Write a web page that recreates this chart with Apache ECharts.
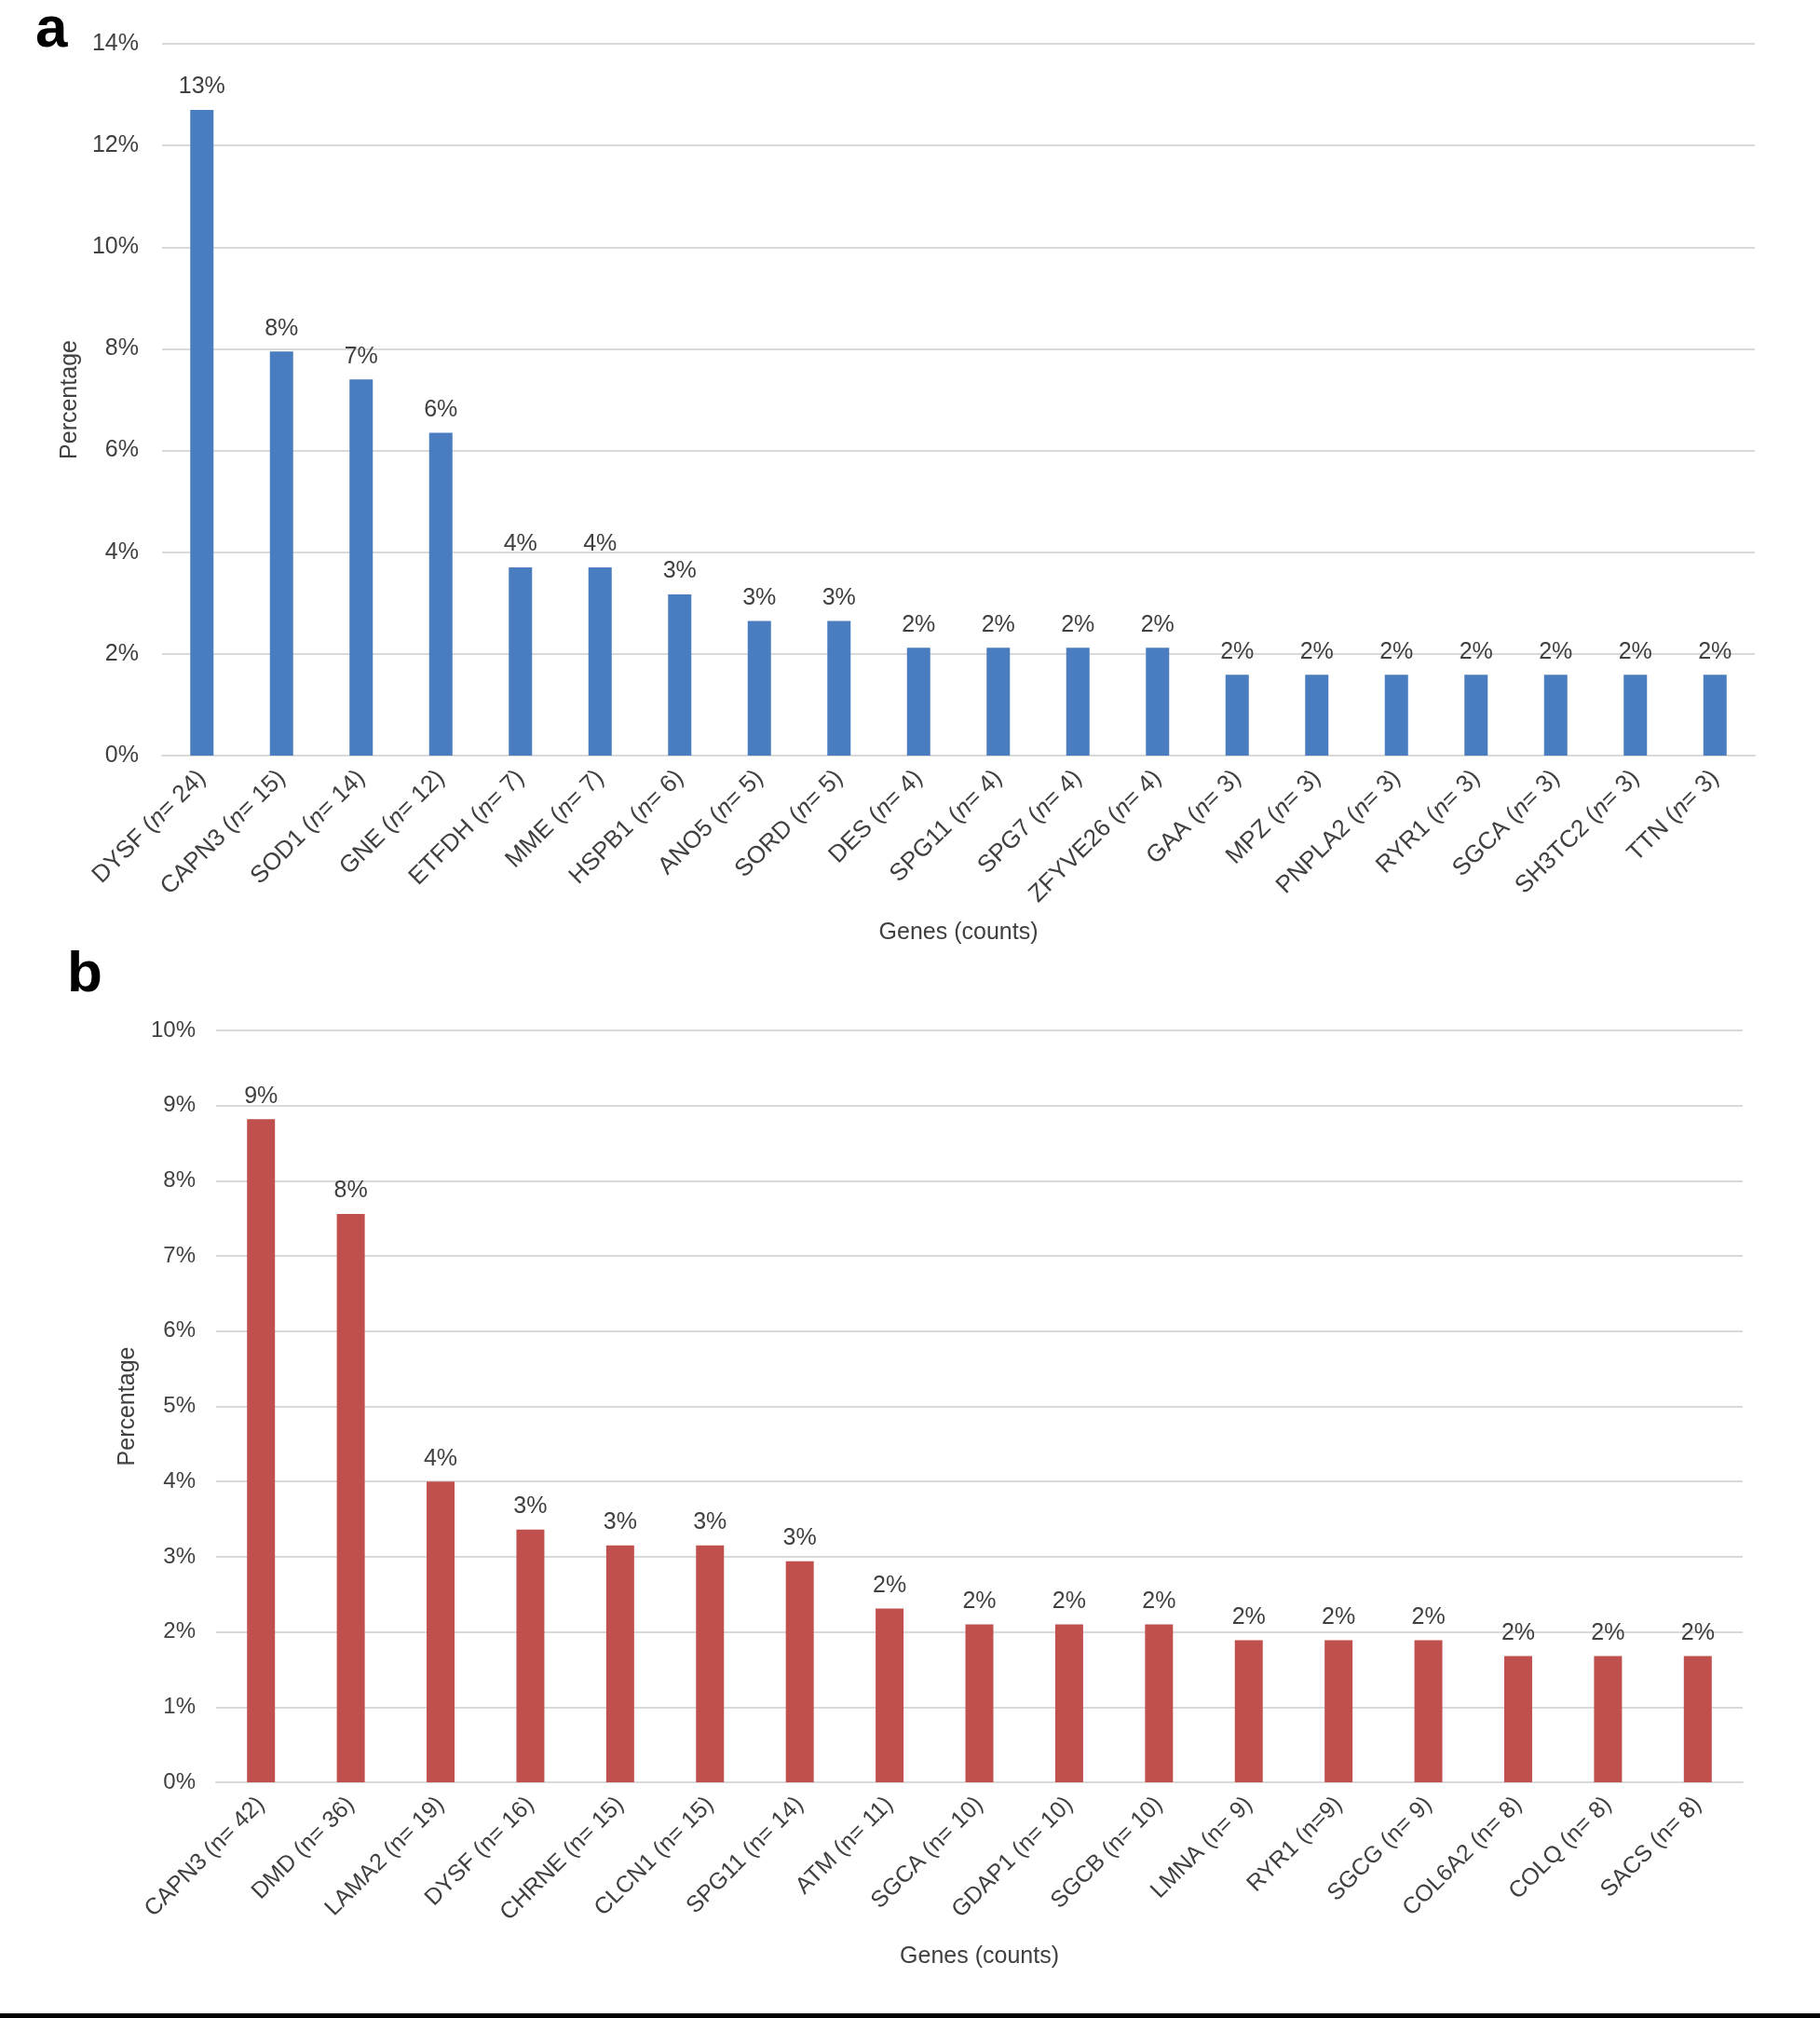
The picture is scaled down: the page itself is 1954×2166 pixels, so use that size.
<!DOCTYPE html>
<html>
<head>
<meta charset="utf-8">
<script src="https://cdn.jsdelivr.net/npm/echarts@6/dist/echarts.min.js"></script>
<style>
html,body{margin:0;padding:0;background:#fff;}
#chart{width:1954px;height:2166px;}
</style>
</head>
<body>
<div id="chart"></div>
<script>
// Panel a
var genesA = ['DYSF','CAPN3','SOD1','GNE','ETFDH','MME','HSPB1','ANO5','SORD','DES','SPG11','SPG7','ZFYVE26','GAA','MPZ','PNPLA2','RYR1','SGCA','SH3TC2','TTN'];
var countsA = [24,15,14,12,7,7,6,5,5,4,4,4,4,3,3,3,3,3,3,3];
var pctA = [12.7,7.95,7.4,6.35,3.7,3.7,3.17,2.65,2.65,2.12,2.12,2.12,2.12,1.59,1.59,1.59,1.59,1.59,1.59,1.59];
var ticksA = {min:0, max:14, interval:2};

// Panel b
var genesB = ['CAPN3','DMD','LAMA2','DYSF','CHRNE','CLCN1','SPG11','ATM','SGCA','GDAP1','SGCB','LMNA','RYR1','SGCG','COL6A2','COLQ','SACS'];
var countsB = [42,36,19,16,15,15,14,11,10,10,10,9,9,9,8,8,8];
var countSepB = ['= ','= ','= ','= ','= ','= ','= ','= ','= ','= ','= ','= ','=','= ','= ','= ','= '];
var pctB = [8.82,7.56,4.0,3.36,3.15,3.15,2.94,2.31,2.1,2.1,2.1,1.89,1.89,1.89,1.68,1.68,1.68];
var ticksB = {min:0, max:10, interval:1};

var FONT = "'Liberation Sans', Arial, sans-serif";
var TXT = '#404040';
var GRID = '#d9d9d9';

var catsA = genesA.map(function(g,i){ return g + '|' + countsA[i]; });
var catsB = genesB.map(function(g,i){ return g + '|' + countsB[i] + '|' + countSepB[i]; });

var chart = echarts.init(document.getElementById('chart'), null, {renderer:'canvas'});
var option = {
  backgroundColor:'#fff',
  animation:false,
  textStyle:{fontFamily:FONT},
  grid:[
    {left:174, right:70, top:47, height:764, containLabel:false},
    {left:232, right:83, top:1106, height:807, containLabel:false}
  ],
  graphic:[
    {type:'text', left:38, top:2, style:{text:'a', font:'bold 62px ' + FONT, fill:'#000'}},
    {type:'text', left:72, top:1016, style:{text:'b', font:'bold 62px ' + FONT, fill:'#000'}},
    {type:'rect', left:0, top:2161, shape:{width:1954, height:5}, style:{fill:'#000'}}
  ],
  xAxis:[
    {
      type:'category', gridIndex:0, data:catsA,
      name:'Genes (counts)', nameLocation:'middle', nameGap:178,
      nameTextStyle:{fontSize:25, color:TXT, fontFamily:FONT},
      axisLine:{show:true, lineStyle:{color:GRID, width:2}},
      axisTick:{show:false},
      axisLabel:{
        interval:0, rotate:45, margin:20, color:TXT, fontSize:26, fontFamily:FONT,
        formatter:function(v){ var p=v.split('|'); return '{r|'+p[0]+' (}{i|n}{r|= '+p[1]+')}'; },
        rich:{r:{fontSize:26, color:TXT, fontFamily:FONT}, i:{fontSize:26, color:TXT, fontFamily:FONT, fontStyle:'italic'}}
      }
    },
    {
      type:'category', gridIndex:1, data:catsB,
      name:'Genes (counts)', nameLocation:'middle', nameGap:175,
      nameTextStyle:{fontSize:25, color:TXT, fontFamily:FONT},
      axisLine:{show:true, lineStyle:{color:GRID, width:2}},
      axisTick:{show:false},
      axisLabel:{
        interval:0, rotate:45, margin:20, color:TXT, fontSize:25, fontFamily:FONT,
        formatter:function(v){ var p=v.split('|'); return p[0]+' (n'+p[2]+p[1]+')'; }
      }
    }
  ],
  yAxis:[
    {
      type:'value', gridIndex:0, min:ticksA.min, max:ticksA.max, interval:ticksA.interval,
      name:'Percentage', nameLocation:'middle', nameGap:82, nameRotate:90,
      nameTextStyle:{fontSize:25, color:TXT, fontFamily:FONT},
      axisLine:{show:false}, axisTick:{show:false},
      axisLabel:{formatter:'{value}%', color:TXT, fontSize:25, margin:25, fontFamily:FONT},
      splitLine:{show:true, lineStyle:{color:GRID, width:2}}
    },
    {
      type:'value', gridIndex:1, min:ticksB.min, max:ticksB.max, interval:ticksB.interval,
      name:'Percentage', nameLocation:'middle', nameGap:82, nameRotate:90,
      nameTextStyle:{fontSize:25, color:TXT, fontFamily:FONT},
      axisLine:{show:false}, axisTick:{show:false},
      axisLabel:{formatter:'{value}%', color:TXT, fontSize:24, margin:22, fontFamily:FONT},
      splitLine:{show:true, lineStyle:{color:GRID, width:2}}
    }
  ],
  series:[
    {
      type:'bar', xAxisIndex:0, yAxisIndex:0, data:pctA, barWidth:25,
      itemStyle:{color:'#4a7dbf'},
      label:{show:true, position:'top', distance:12, color:TXT, fontSize:25, fontFamily:FONT,
        formatter:function(p){ return Math.round(p.value) + '%'; }}
    },
    {
      type:'bar', xAxisIndex:1, yAxisIndex:1, data:pctB, barWidth:30,
      itemStyle:{color:'#c0504d'},
      label:{show:true, position:'top', distance:12, color:TXT, fontSize:25, fontFamily:FONT,
        formatter:function(p){ return Math.round(p.value) + '%'; }}
    }
  ]
};
chart.setOption(option);
</script>
</body>
</html>
